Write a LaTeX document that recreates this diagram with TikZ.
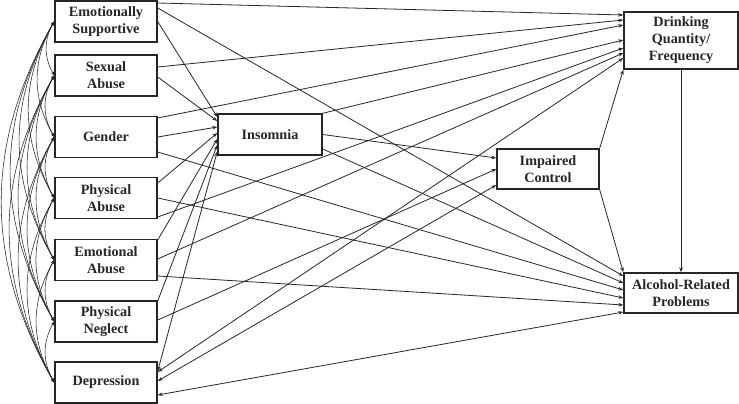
\documentclass[tikz,border=0pt]{standalone}
\usepackage{fontspec}
\setmainfont{Liberation Serif}
\usetikzlibrary{arrows.meta}
\definecolor{ink}{HTML}{262626}
\begin{document}
\begin{tikzpicture}[x=1pt,y=-1pt,
  box/.style={draw=ink,line width=1.4pt,fill=white,text=ink,align=center,
    inner sep=0pt,font=\fontsize{14.2}{17}\selectfont\bfseries},
  lbox/.style={box,minimum width=102pt,minimum height=41pt},
  conn/.style={draw=ink,line width=0.8pt,-{Stealth[length=5pt,width=3.6pt]}},
  dconn/.style={draw=ink,line width=0.8pt,{Stealth[length=5pt,width=3.6pt]}-{Stealth[length=5pt,width=3.6pt]}},
  cov/.style={draw=ink,line width=0.55pt,{Stealth[length=4pt,width=3pt]}-{Stealth[length=4pt,width=3pt]},bend right=30}]
\useasboundingbox (0,0) rectangle (739,404);
% nodes
\node[lbox] (es) at (106,21.5) {Emotionally\\Supportive};
\node[lbox] (sa) at (106,75.5) {Sexual\\Abuse};
\node[lbox] (ge) at (106,137) {Gender};
\node[lbox] (pa) at (106,198) {Physical\\Abuse};
\node[lbox] (ea) at (106,260) {Emotional\\Abuse};
\node[lbox] (pn) at (106,321.5) {Physical\\Neglect};
\node[lbox] (de) at (106,382.5) {Depression};
\node[box,minimum width=104pt,minimum height=41pt] (in) at (270,134.5) {Insomnia};
\node[box,minimum width=102pt,minimum height=40pt] (ic) at (548,169) {Impaired\\Control};
\node[box,minimum width=114pt,minimum height=57pt] (dq) at (681,40.5) {Drinking\\Quantity/\\Frequency};
\node[box,minimum width=114pt,minimum height=40pt] (ar) at (681,293) {Alcohol-Related\\Problems};
% covariances on the left
\foreach \a/\b in {es/sa,es/ge,es/pa,es/ea,es/pn,es/de,
                   sa/ge,sa/pa,sa/ea,sa/pn,sa/de,
                   ge/pa,ge/ea,ge/pn,ge/de,
                   pa/ea,pa/pn,pa/de,
                   ea/pn,ea/de,
                   pn/de}
  \draw[cov] (\a.west) to (\b.west);
% Emotionally Supportive
\draw[conn] ([yshift=18.5pt]es.east) -- ([yshift=25.5pt]dq.west);
\draw[conn] ([yshift=13.5pt]es.east) -- ([yshift=17pt]ar.west);
\draw[conn] ([yshift=0pt]es.east) -- ([yshift=17.5pt]in.west);
% Sexual Abuse
\draw[conn] ([yshift=8.5pt]sa.east) -- ([yshift=20.5pt]dq.west);
\draw[conn] ([yshift=-1.5pt]sa.east) -- ([yshift=13.5pt]in.west);
% Gender
\draw[conn] ([yshift=19pt]ge.east) -- ([yshift=15.5pt]dq.west);
\draw[conn] ([yshift=0pt]ge.east) -- ([yshift=7.5pt]in.west);
\draw[conn] ([yshift=-15pt]ge.east) -- ([yshift=3pt]ar.west);
% Physical Abuse
\draw[conn] ([yshift=15pt]pa.east) -- ([yshift=1.5pt]in.west);
\draw[conn] ([yshift=0pt]pa.east) -- ([yshift=-5pt]ar.west);
\draw[conn] ([yshift=-19pt]pa.east) -- ([yshift=-7.5pt]dq.west);
% Emotional Abuse
\draw[conn] ([yshift=20pt]ea.east) -- ([yshift=-4.5pt]in.west);
\draw[conn] ([yshift=1pt]ea.east) -- ([yshift=-12.5pt]dq.west);
\draw[conn] ([yshift=-16pt]ea.east) -- ([yshift=-12pt]ar.west);
% Physical Neglect
\draw[conn] ([yshift=20.5pt]pn.east) -- ([yshift=-10.5pt]in.west);
\draw[conn] ([yshift=1.5pt]pn.east) -- ([yshift=0pt]ic.west);
% Depression
\draw[dconn] ([yshift=11.5pt]de.east) -- ([yshift=-17pt]in.west);
\draw[dconn] ([yshift=10.5pt]de.east) -- ([yshift=-17.5pt]dq.west);
\draw[dconn] ([yshift=1.5pt]de.east) -- ([yshift=-16pt]ic.west);
\draw[dconn] ([yshift=-12.5pt]de.east) -- ([yshift=-19pt]ar.west);
% Insomnia
\draw[conn] (in.north east) -- ([yshift=0.5pt]dq.west);
\draw[conn] ([yshift=0pt]in.east) -- ([yshift=11pt]ic.west);
\draw[conn] ([yshift=-14.5pt]in.east) -- ([yshift=10pt]ar.west);
% Impaired Control
\draw[conn] (ic.north east) -- (dq.south west);
\draw[conn] (ic.south east) -- (ar.north west);
% Drinking -> Problems
\draw[conn] (dq.south) -- (ar.north);
\end{tikzpicture}
\end{document}
